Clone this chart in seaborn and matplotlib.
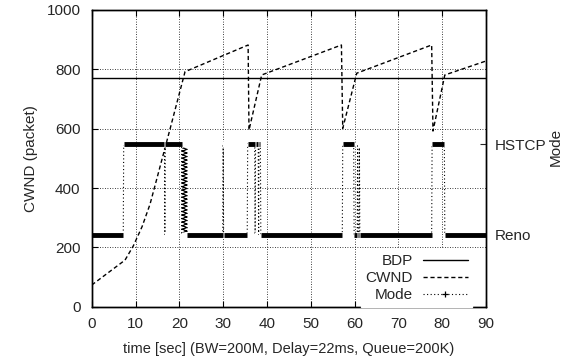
import numpy as np
import pandas as pd
import matplotlib
matplotlib.use("Agg")
import matplotlib.pyplot as plt
from matplotlib.lines import Line2D
import seaborn as sns

# ---------------- data ----------------
cwnd_time = [0.0, 7.6, 9.5, 11.5, 13.3, 14.3, 17.9, 21.3, 35.7, 35.9, 38.8,
             57.0, 57.3, 60.5, 77.6, 77.9, 80.6, 90.0]
cwnd_value = [73, 157, 205, 270, 345, 400, 600, 792, 882, 595, 781,
              882, 601, 787, 882, 592, 781, 828]

bdp_time = [0.0, 90.0]
bdp_value = [770, 770]

# mode samples (consecutive samples with same mode form a continuous run)
mode_time = [0.0, 7.2, 7.3, 16.6, 16.7, 16.8, 20.5,
             20.6, 20.7, 20.8, 20.9, 21.0, 21.1, 21.2, 21.3, 21.4, 21.5, 21.6, 21.7,
             21.8, 29.9, 30.0, 30.1, 35.5, 35.6, 37.2, 37.3, 37.4, 38.0, 38.1,
             38.2, 38.5, 38.6, 57.2, 57.3, 59.8, 59.9, 60.6, 60.7, 60.8, 61.0,
             61.1, 61.2, 77.6, 77.7, 80.5, 80.6, 90.0]
mode_name = ["Reno", "Reno", "HSTCP", "HSTCP", "Reno", "HSTCP", "HSTCP",
             "Reno", "HSTCP", "Reno", "HSTCP", "Reno", "HSTCP", "Reno", "HSTCP", "Reno", "HSTCP", "Reno", "HSTCP",
             "Reno", "Reno", "HSTCP", "Reno", "Reno", "HSTCP", "HSTCP", "Reno", "HSTCP", "HSTCP", "Reno",
             "HSTCP", "HSTCP", "Reno", "Reno", "HSTCP", "HSTCP", "Reno", "Reno", "HSTCP", "Reno", "Reno",
             "HSTCP", "Reno", "Reno", "HSTCP", "HSTCP", "Reno", "Reno"]
mode_levels = ["Reno", "HSTCP"]

x_ticks = [0, 10, 20, 30, 40, 50, 60, 70, 80, 90]
y_ticks = [0, 200, 400, 600, 800, 1000]

# ---------------- style ----------------
sns.set_style("ticks")
plt.rcParams["font.family"] = ["Liberation Sans", "DejaVu Sans"]
FS = 11

fig = plt.figure(figsize=(5.69, 3.62), dpi=100)
ax = fig.add_axes([0.1612, 0.1528, 0.8541 - 0.1612, 0.9724 - 0.1528])

cwnd_df = pd.DataFrame({"t": cwnd_time, "cwnd": cwnd_value})
bdp_df = pd.DataFrame({"t": bdp_time, "bdp": bdp_value})
mode_df = pd.DataFrame({"t": mode_time,
                        "m": [mode_levels.index(n) for n in mode_name]})

DOT = (0, (1, 2.2))
DASH = (0, (3, 2))

sns.lineplot(data=bdp_df, x="t", y="bdp", ax=ax, color="black", lw=1.0,
             estimator=None, sort=False, legend=False)
sns.lineplot(data=cwnd_df, x="t", y="cwnd", ax=ax, color="black", lw=1.0,
             linestyle=DASH, estimator=None, sort=False, legend=False)

ax.set_xlim(0, 90)
ax.set_ylim(0, 1000)
ax.set_xticks(x_ticks)
ax.set_yticks(y_ticks)
ax.grid(True, linestyle=(0, (1, 2)), color="black", lw=0.6)
ax.tick_params(axis="both", which="major", direction="in", length=4,
               top=True, right=True, labelsize=FS, width=0.8, color="black")
ax.tick_params(axis="x", pad=7.5)
ax.tick_params(axis="y", pad=8)
ax.set_xlabel("time [sec] (BW=200M, Delay=22ms, Queue=200K)", fontsize=10.5,
              labelpad=8)
ax.set_ylabel("CWND (packet)", fontsize=FS, labelpad=6)

# secondary axis for mode: Reno at 243, HSTCP at 548 on the left scale
ax2 = ax.twinx()
lo, hi = 243.0, 548.0
span = 1000.0 / (hi - lo)
a = -lo / (hi - lo)
ax2.set_ylim(a, a + span)
sns.lineplot(data=mode_df, x="t", y="m", ax=ax2, color="black", lw=0.8,
             linestyle=DOT, marker="+", markersize=4.5,
             markeredgewidth=0.9, estimator=None, sort=False, legend=False)
# dense sample runs drawn as thick bars
for i in range(len(mode_time) - 1):
    if mode_name[i] == mode_name[i + 1]:
        lvl = mode_levels.index(mode_name[i])
        ax2.hlines(lvl, mode_time[i], mode_time[i + 1], color="black", lw=3.5)

ax2.set_yticks([0, 1])
ax2.set_yticklabels(mode_levels, fontsize=FS)
ax2.tick_params(axis="y", direction="in", length=4, width=0.8, pad=6)
ax2.set_ylabel("Mode", fontsize=FS, labelpad=2)
ax2.yaxis.label.set_y(0.54)
ax2.set_xlim(0, 90)

for s in list(ax.spines.values()) + list(ax2.spines.values()):
    s.set_color("black")
    s.set_linewidth(1.0)

handles = [Line2D([], [], color="black", lw=1.0),
           Line2D([], [], color="black", lw=1.0, linestyle=DASH),
           Line2D([], [], color="black", lw=0.8, linestyle=DOT,
                  marker="+", markersize=4.5, markeredgewidth=0.9)]
leg = ax2.legend(handles, ["BDP", "CWND", "Mode"], loc="lower right",
                 bbox_to_anchor=(0.965, 0.0),
                 markerfirst=False, frameon=True, fancybox=False,
                 edgecolor="white", facecolor="white", framealpha=1,
                 fontsize=FS, handlelength=2.9, handletextpad=0.7,
                 labelspacing=0.2, borderaxespad=0.0, borderpad=0.3)

fig.savefig("out.png", dpi=100)
